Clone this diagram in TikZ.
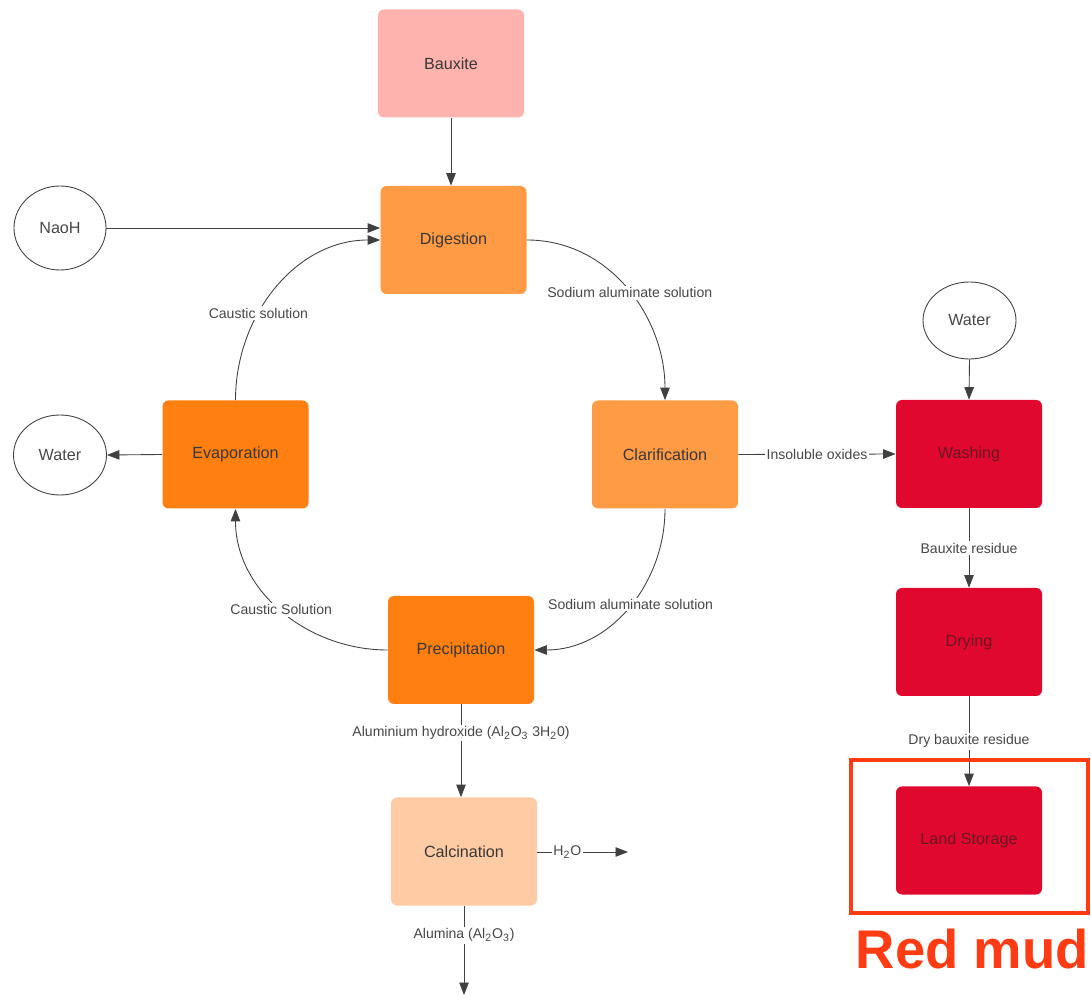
\documentclass[tikz,border=0pt]{standalone}
\usepackage{fontspec}
\setmainfont{Liberation Sans}
\usetikzlibrary{arrows.meta, shapes.geometric}

\definecolor{bauxitepink}{HTML}{FFB3AE}
\definecolor{lightorange}{HTML}{FF9A45}
\definecolor{darkorange}{HTML}{FF7F10}
\definecolor{paleorange}{HTML}{FFCBA4}
\definecolor{mudred}{HTML}{E0082F}
\definecolor{mudtext}{HTML}{6B1522}
\definecolor{markred}{HTML}{FF3B14}
\definecolor{linegray}{HTML}{404040}

\begin{document}
\begin{tikzpicture}[
    process/.style={rectangle, rounded corners=0.12cm, minimum width=2.92cm, minimum height=2.16cm, font=\fontsize{9.2}{11}\selectfont, text=black!78},
    source/.style={ellipse, draw=linegray, line width=0.5pt, inner sep=0pt, font=\fontsize{9.2}{11}\selectfont, text=black!72},
    flow/.style={draw=linegray, line width=0.5pt, -{Triangle[length=2.5mm,width=1.9mm]}},
    flowlabel/.style={fill=white, inner sep=1pt, font=\fontsize{8}{10}\selectfont, text=black!72}
]
\useasboundingbox (0,0) rectangle (21.82,19.94);

% main circuit
\node[process, fill=bauxitepink] (bauxite) at (9.02, 18.67) {Bauxite};
\node[process, fill=lightorange] (digestion) at (9.07, 15.14) {Digestion};
\node[process, fill=lightorange] (clarification) at (13.30, 10.85) {Clarification};
\node[process, fill=darkorange] (evaporation) at (4.71, 10.85) {Evaporation};
\node[process, fill=darkorange] (precipitation) at (9.22, 6.94) {Precipitation};
\node[process, fill=paleorange] (calcination) at (9.28, 2.91) {Calcination};

% residue line
\node[process, fill=mudred, text=mudtext] (washing) at (19.38, 10.86) {Washing};
\node[process, fill=mudred, text=mudtext] (drying) at (19.38, 7.10) {Drying};
\node[process, fill=mudred, text=mudtext] (landstorage) at (19.38, 3.13) {Land Storage};

\node[source, minimum width=1.84cm, minimum height=1.68cm] (naoh) at (1.20, 15.38) {NaoH};
\node[source, minimum width=1.86cm, minimum height=1.60cm] (waterout) at (1.20, 10.84) {Water};
\node[source, minimum width=1.86cm, minimum height=1.54cm] (waterin) at (19.39, 13.53) {Water};

\coordinate (steam) at (12.56, 2.90);
\coordinate (alumina) at (9.28, 0.04);

\draw[flow] (bauxite.south) -- (bauxite.south |- digestion.north);
\draw[flow] (naoh.east) -- (naoh.east -| digestion.west);
\draw[flow] (digestion.east) to[out=0, in=90] node[flowlabel, pos=0.52] {Sodium aluminate solution} (clarification.north);
\draw[flow] (clarification.south) to[out=-90, in=0] node[flowlabel, pos=0.48] {Sodium aluminate solution} (precipitation.east);
\draw[flow] (precipitation.west) to[out=180, in=-90] node[flowlabel, pos=0.5] {Caustic Solution} (evaporation.south);
\draw[flow] (evaporation.north) to[out=90, in=180] node[flowlabel, pos=0.37] {Caustic solution} (digestion.west);
\draw[flow] (evaporation.west) -- (waterout.east);
\draw[flow] (precipitation.south) -- node[flowlabel, pos=0.31] {Aluminium hydroxide (Al\textsubscript{2}O\textsubscript{3} 3H\textsubscript{2}0)} (precipitation.south |- calcination.north);
\draw[flow] (calcination.east |- steam) -- node[flowlabel, pos=0.33] {H\textsubscript{2}O} (steam);
\draw[flow] (calcination.south) -- node[flowlabel, pos=0.33] {Alumina (Al\textsubscript{2}O\textsubscript{3})} (alumina);

\draw[flow] (clarification.east) -- node[flowlabel, pos=0.5] {Insoluble oxides} (washing.west);
\draw[flow] (waterin.south) -- (washing.north);
\draw[flow] (washing.south) -- node[flowlabel] {Bauxite residue} (drying.north);
\draw[flow] (drying.south) -- node[flowlabel] {Dry bauxite residue} (landstorage.north);

% highlight
\draw[markred, line width=2.3pt] (17.02,1.68) rectangle (21.76,4.74);
\node[text=markred, font=\fontsize{31}{36}\selectfont\bfseries, anchor=base, inner sep=0pt] (redmud) at (19.45, 0.58) {Red mud};

\end{tikzpicture}
\end{document}
